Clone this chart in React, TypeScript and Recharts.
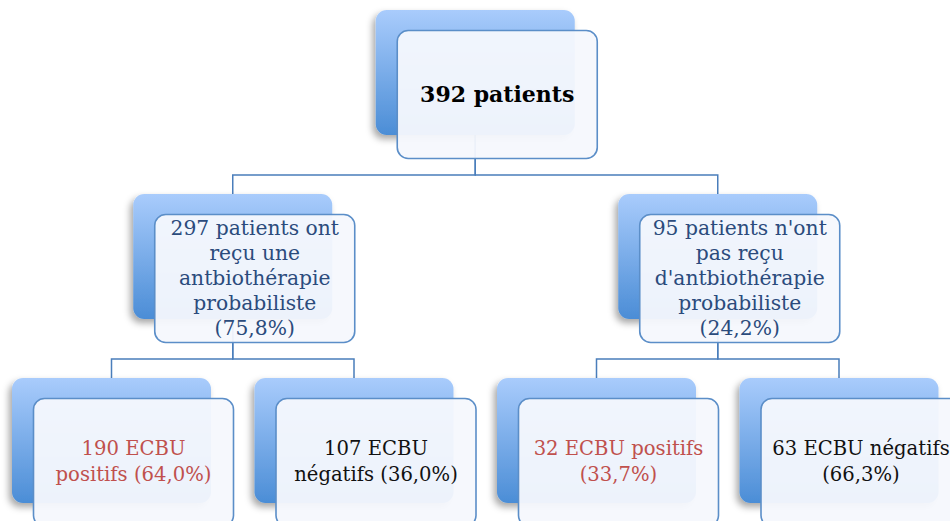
import React from 'react';
import { ScatterChart, Scatter, XAxis, YAxis } from 'recharts';

// tree: one entry per box, parents point at the index of the box above
const nodeIds = ['root', 'treated', 'untreated', 'treatedPos', 'treatedNeg', 'untreatedPos', 'untreatedNeg'];
const nodeParents = [-1, 0, 0, 1, 1, 2, 2];
const nodeLevels = [0, 1, 1, 2, 2, 2, 2];
const nodeSlots = [1.5, 0.5, 2.5, 0, 1, 2, 3];
const nodeCounts = [392, 297, 95, 190, 107, 32, 63];
const nodeTones = ['total', 'group', 'group', 'pos', 'neg', 'pos', 'neg'];
const nodeLines: string[][] = [
  ['392 patients'],
  ['297 patients ont', 'reçu une', 'antbiothérapie', 'probabiliste', '(75,8%)'],
  ["95 patients n'ont", 'pas reçu', "d'antbiothérapie", 'probabiliste', '(24,2%)'],
  ['190 ECBU', 'positifs (64,0%)'],
  ['107 ECBU', 'négatifs (36,0%)'],
  ['32 ECBU positifs', '(33,7%)'],
  ['63 ECBU négatifs', '(66,3%)'],
];

const W = 950;
const H = 521;
const FONT = '"DejaVu Serif", "Liberation Serif", serif';
const TONE_COLOR: Record<string, string> = {
  total: '#000000',
  group: '#2b4b7c',
  pos: '#c0504d',
  neg: '#111111',
};

interface NodePoint {
  id: string;
  x: number;
  y: number;
  count: number;
  tone: string;
  lines: string[];
}

const nodes: NodePoint[] = nodeIds.map((id, i) => ({
  id,
  x: nodeSlots[i],
  y: nodeLevels[i],
  count: nodeCounts[i],
  tone: nodeTones[i],
  lines: nodeLines[i],
}));

// elbow connector from a parent box down to each child box
const BAR_AT = 0.557;
const connectors = nodes
  .map((n, i) => ({ n, p: nodeParents[i] >= 0 ? nodes[nodeParents[i]] : null }))
  .filter((c) => c.p !== null)
  .map(({ n, p }) => [
    { x: p!.x, y: p!.y },
    { x: p!.x, y: p!.y + BAR_AT },
    { x: n.x, y: p!.y + BAR_AT },
    { x: n.x, y: n.y },
  ]);

function NodeBox(props: any): React.JSX.Element {
  const { cx, cy, payload } = props;
  const node = payload as NodePoint;
  const fx = cx + 22;
  const fy = cy + 21;
  const isRoot = node.tone === 'total';
  const size = isRoot ? 22 : node.lines.length > 2 ? 20.3 : 19.6;
  const lh = node.lines.length > 2 ? 25 : 26;
  const top = fy - ((node.lines.length - 1) * lh) / 2;
  return (
    <g>
      <rect
        x={cx - 99.5}
        y={cy - 62.5}
        width={199}
        height={125}
        rx={11}
        fill="url(#backGrad)"
        filter="url(#boxShadow)"
      />
      <rect
        x={cx - 78}
        y={cy - 42}
        width={200}
        height={128}
        rx={11}
        fill="#f5f8fd"
        fillOpacity={0.95}
        stroke="#5b8ec8"
        strokeWidth={1.6}
      />
      <text
        x={fx}
        textAnchor="middle"
        fontFamily={FONT}
        fontSize={size}
        fontWeight={isRoot ? 700 : 400}
        fill={TONE_COLOR[node.tone]}
      >
        {node.lines.map((l, k) => (
          <tspan key={k} x={fx} y={top + k * lh} dominantBaseline="central">
            {l}
          </tspan>
        ))}
      </text>
    </g>
  );
}

const Nothing = (): React.JSX.Element => <g />;

export default function App(): React.JSX.Element {
  return (
    <div style={{ position: 'absolute', left: 0, top: 0, width: W, height: H, overflow: 'hidden', background: '#fff' }}>
      <ScatterChart width={W} height={H} margin={{ top: 72.5, right: 111, bottom: 80.5, left: 111.5 }}>
        <defs>
          <linearGradient id="backGrad" x1="0" y1="0" x2="0" y2="1">
            <stop offset="0%" stopColor="#a9ccfc" />
            <stop offset="100%" stopColor="#4b8dd6" />
          </linearGradient>
          <filter id="boxShadow" x="-20%" y="-20%" width="140%" height="150%">
            <feDropShadow dx={-3} dy={4} stdDeviation={3.5} floodColor="#000" floodOpacity={0.35} />
          </filter>
        </defs>
        <XAxis type="number" dataKey="x" domain={[0, 3]} hide />
        <YAxis type="number" dataKey="y" domain={[0, 2]} reversed hide />
        {connectors.map((seg, i) => (
          <Scatter
            key={`c${i}`}
            data={seg}
            line={{ stroke: '#4a7ebb', strokeWidth: 1.5 }}
            lineType="joint"
            shape={Nothing}
            isAnimationActive={false}
          />
        ))}
        <Scatter data={nodes} shape={NodeBox} isAnimationActive={false} />
      </ScatterChart>
    </div>
  );
}
